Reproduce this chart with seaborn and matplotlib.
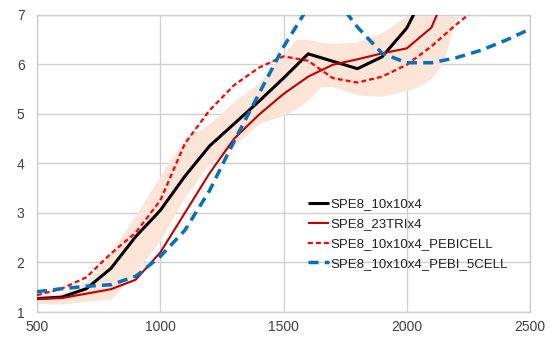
import numpy as np
import pandas as pd
import matplotlib
matplotlib.use("Agg")
import matplotlib.pyplot as plt
import seaborn as sns

# ---- data ----
x_vals = [500, 600, 700, 800, 900, 1000, 1100, 1200, 1300, 1400, 1500,
          1600, 1700, 1800, 1900, 2000, 2100, 2200, 2300, 2400, 2500]
spe8_10x10x4 = [1.27, 1.30, 1.47, 1.88, 2.52, 3.05, 3.74, 4.35, 4.80, 5.25, 5.72,
                6.21, 6.06, 5.91, 6.15, 6.73, 7.70, np.nan, np.nan, np.nan, np.nan]
spe8_23trix4 = [1.27, 1.28, 1.37, 1.46, 1.65, 2.20, 3.00, 3.80, 4.50, 4.98, 5.40,
                5.75, 5.99, 6.10, 6.22, 6.32, 6.74, 7.90, np.nan, np.nan, np.nan]
spe8_pebicell = [1.34, 1.47, 1.70, 2.18, 2.60, 3.25, 4.40, 5.07, 5.58, 5.93, 6.16,
                 6.07, 5.72, 5.63, 5.75, 5.99, 6.36, 6.80, 7.20, np.nan, np.nan]
spe8_pebi5 = [1.41, 1.47, 1.52, 1.55, 1.72, 2.12, 2.65, 3.45, 4.45, 5.40, 6.35,
              7.15, 7.40, 6.75, 6.22, 6.03, 6.03, 6.13, 6.28, 6.48, 6.71]

band_x = [500, 600, 700, 800, 900, 1000, 1100, 1200, 1300, 1400, 1500, 1550,
          1600, 1650, 1700, 1800, 1900, 2000, 2050, 2100, 2150, 2200]
band_hi = [1.32, 1.38, 1.60, 2.20, 2.95, 3.75, 4.50, 4.80, 5.25, 5.62, 6.20, 6.50,
           6.50, 6.45, 6.42, 6.45, 6.65, 6.97, 6.97, 6.97, 6.97, 6.97]
band_lo = [1.17, 1.16, 1.22, 1.26, 1.80, 2.45, 3.32, 4.00, 4.35, 4.80, 4.97, 5.10,
           5.27, 5.55, 5.55, 5.38, 5.35, 5.48, 5.55, 5.72, 6.05, 6.96]

labels = ["SPE8_10x10x4", "SPE8_23TRIx4", "SPE8_10x10x4_PEBICELL", "SPE8_10x10x4_PEBI_5CELL"]
x_ticks = [500, 1000, 1500, 2000, 2500]
y_ticks = [1, 2, 3, 4, 5, 6, 7]

df = pd.DataFrame({"x": x_vals, labels[0]: spe8_10x10x4, labels[1]: spe8_23trix4,
                   labels[2]: spe8_pebicell, labels[3]: spe8_pebi5})

sns.set_theme(style="white")
plt.rcParams["font.family"] = ["Liberation Sans", "DejaVu Sans"]

fig = plt.figure(figsize=(5.58, 3.39), dpi=100)
ax = fig.add_axes([37 / 558, 1 - 312 / 339, 493 / 558, 297.3 / 339])

ax.fill_between(band_x, band_lo, band_hi, color="#FCE4D6", linewidth=0, zorder=1)

styles = [
    dict(color="#000000", lw=2.2, dashes=None),
    dict(color="#C00000", lw=1.5, dashes=None),
    dict(color="#FF0000", lw=1.6, dashes=(2.2, 1.4)),
    dict(color="#0070C0", lw=2.5, dashes=(2.9, 1.8)),
]
handles = []
for lab, st in zip(labels, styles):
    sub = df[["x", lab]].dropna()
    sns.lineplot(data=sub, x="x", y=lab, ax=ax, color=st["color"], linewidth=st["lw"],
                 label=lab, zorder=3, legend=False)
    ln = ax.lines[-1]
    if st["dashes"] is not None:
        ln.set_dashes(st["dashes"])
    ln.set_solid_capstyle("butt")
    handles.append(ln)

ax.set_xlim(500, 2500)
ax.set_ylim(1, 7)
ax.set_xticks(x_ticks)
ax.set_yticks(y_ticks)
ax.set_xlabel("")
ax.set_ylabel("")
ax.grid(True, color="#D0D0D0", linewidth=1.0)
ax.set_axisbelow(True)
for s in ax.spines.values():
    s.set_color("#D0D0D0")
    s.set_linewidth(1.0)
ax.tick_params(axis="both", length=0, labelsize=10, colors="#404040", pad=6)
ax.tick_params(axis="y", pad=9)

leg = ax.legend(handles=handles, labels=labels, loc="upper left",
                bbox_to_anchor=(0.55, 0.383), frameon=False, fontsize=9.5,
                handlelength=1.6, handletextpad=0.1, labelspacing=0.58,
                borderpad=0, borderaxespad=0)
for t in leg.get_texts():
    t.set_color("#202020")

fig.savefig("out.png", dpi=100)
